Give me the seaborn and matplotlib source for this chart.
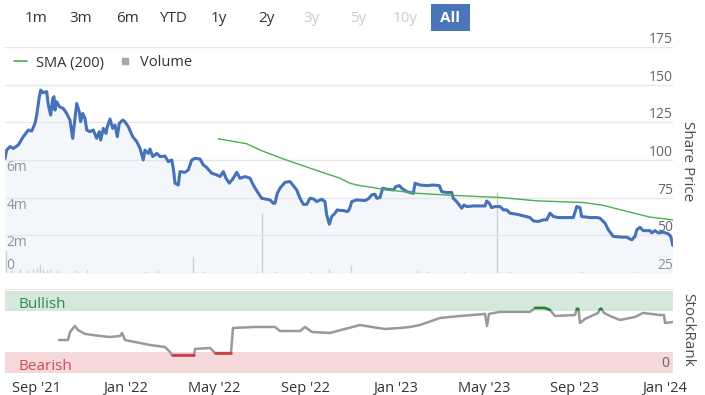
import numpy as np
import pandas as pd
import matplotlib
matplotlib.use("Agg")
import matplotlib.pyplot as plt
from matplotlib.lines import Line2D
from matplotlib.patches import FancyBboxPatch
import seaborn as sns

# ─── Data ─── (all dates are days counted from 1 Sep 2021)
START = pd.Timestamp("2021-09-01")

price_days = [-42, -39.7, -35.2, -30.7, -24, -17.2, -10.4, -5.8, -1.4, 0.9,
              4.5, 6.4, 9.1, 14.5, 16.7, 19.9, 22.6, 24.4, 25.7, 28,
              31.6, 37, 41.6, 46, 49.7, 52.8, 55.1, 58.6, 60.5, 63.3,
              66.4, 68.7, 73.1, 77.6, 82.2, 85.7, 87.6, 91.2, 94.8, 96.6,
              100.2, 103.9, 107, 110.1, 112.8, 117.4, 120.5, 125, 131, 136.4,
              140.9, 145.3, 147.6, 152.1, 154.4, 158.1, 163.5, 168, 174.7, 179.2,
              183.8, 186, 188.3, 192.7, 195, 201.8, 206.3, 210.9, 215.4, 222.1,
              226.6, 231.2, 238, 244.8, 249.2, 253.7, 257.4, 261.8, 267.2, 271.8,
              276.3, 283.1, 289.9, 294.3, 299.7, 305.7, 312.4, 316.9, 321.4, 323.7,
              326.8, 330.5, 337.3, 344, 349.5, 353.1, 357.6, 362.1, 366.7, 371.1,
              375.6, 380.2, 387, 391.4, 393.7, 397.3, 400.5, 405, 408.1, 411.8,
              416.2, 420.8, 423, 425.3, 427.6, 434.3, 445.6, 450.1, 454.7, 459.2,
              461.5, 465.9, 469.6, 472.7, 484, 487.6, 492.1, 495.4, 502.1, 511.1,
              513.4, 520.1, 529.2, 538.1, 546.3, 549.5, 556.3, 563.1, 565.2, 569.8,
              576.6, 579.7, 583.4, 592.3, 608.2, 610.4, 614, 617.2, 621.7, 628.5,
              633, 637.5, 642, 651.1, 655.6, 669.1, 673.6, 680.4, 687.2, 691.7,
              696.2, 700.7, 707.5, 727.8, 732.4, 736.8, 739.1, 750.4, 759.4, 763.9,
              770.7, 775.2, 781.9, 793.3, 800.1, 806.9, 811.4, 813.7, 818.1, 822.6,
              831.7, 834, 838.4, 842.9, 849.7, 856.5, 859.7, 862.4]
price_values = [101, 106.6, 108.9, 107.7, 110, 115.5, 119.9, 119.2, 124.3, 129.8,
                142, 146.4, 144.8, 145.3, 136.4, 129.8, 140.8, 142, 133.1, 138.7,
                135.4, 134.2, 130.9, 126.5, 114.4, 127.6, 137.5, 132, 125.4, 130.9,
                127.6, 119.9, 118.8, 119.9, 114.4, 118.8, 113.2, 121, 117.7, 122.1,
                127.2, 121, 123.2, 115.5, 124.3, 126.5, 125.4, 122.1, 115.5, 112.2,
                107.7, 100, 106.6, 104.4, 107.3, 102.3, 104.4, 102.3, 102.6, 98.9,
                100, 94.5, 84.6, 83.4, 92.3, 91.8, 93.4, 100, 101.1, 100.7,
                96.7, 95, 91.2, 90.1, 89, 92.3, 87.9, 84.6, 87.9, 91.8,
                87.9, 89, 87.9, 83.4, 79, 74.6, 73.9, 73.5, 71.3, 71.3,
                77.9, 81.3, 85.2, 85.7, 82.4, 80.1, 74.6, 70.6, 70.6, 74.6,
                74.2, 72.4, 73.9, 72.4, 63.6, 57.4, 62.5, 64.7, 66.9, 66.5,
                66.5, 65.8, 66.2, 68.4, 72.4, 73.5, 73.1, 74.2, 76.8, 77.3,
                74.6, 75.1, 81.3, 80.8, 80.1, 82.4, 83, 81.3, 79, 77.9,
                84.6, 83.4, 83, 83.4, 83, 79, 78.4, 78.5, 74.6, 72.4,
                68, 70.2, 69.1, 69.5, 69.5, 72.8, 71.3, 68.4, 69.1, 69.1,
                66.9, 66.9, 64.7, 64, 63.5, 61.8, 59.6, 59.2, 60.3, 60.3,
                64.7, 62.5, 61.8, 61.8, 69.1, 68.4, 62.5, 61.8, 61.8, 61.4,
                58.1, 53.7, 49.3, 48.8, 48.8, 47, 49.3, 53.7, 55.3, 53.1,
                53.1, 51.6, 53.1, 51.6, 52.1, 51, 49.3, 43.4]

sma_days = [246.9, 285.4, 303.4, 335, 384.8, 411.8, 425.3, 434.4, 470.4,
            515.6, 560.8, 628.5, 678.2, 741.3, 768.4, 800.1, 831.7, 862.4]
sma_values = [114.1, 110.8, 106.6, 100.7, 92.3, 87.9, 84.6, 83.4, 80.6,
              77.9, 76.6, 75.1, 72.9, 71.8, 69.9, 65.9, 62.1, 60.3]

volume_days = [-40.6, -32.5, -21.7, -10.8, -4.1, 1.4, 5.4, 9.5, 14.9, 19,
               28.4, 52.8, 56.9, 69.1, 147.6, 165.2, 212.7, 226.2, 299.3, 306.1,
               323.7, 372.5, 396.9, 426.7, 516.1, 531, 579.7, 624.4, 642, 739.6,
               814.1]
volume_values = [1.2, 0.15, 0.2, 0.15, 0.2, 0.25, 0.5, 0.2, 0.15, 0.2,
                 0.15, 0.15, 0.1, 0.15, 0.1, 0.15, 0.85, 0.12, 0.1, 3.2,
                 0.12, 0.12, 0.2, 0.45, 0.15, 0.1, 0.12, 4.3, 0.1, 0.12,
                 0.12]  # millions

rank_days = [31.2, 43.3, 46, 52.8, 56.9, 66.4, 86.7, 100.2, 113.8, 116.5,
             120.5, 140.9, 154.4, 174.7, 181.5, 184.2, 214, 215.4, 235.7, 242.5,
             264.1, 266.8, 296.6, 323.7, 330.5, 357.6, 364.4, 373.8, 398.2, 418.5,
             438.9, 463.2, 472.7, 493, 506.6, 520.1, 547.2, 574.3, 608.2, 610.9,
             613.6, 628.5, 669.1, 675.9, 689.4, 696.2, 703, 730.1, 732.2, 733.5,
             734.8, 736.8, 743.6, 761.2, 763.5, 765, 766.5, 769.4, 777.5, 791,
             811.4, 822.2, 845.2, 850.6, 852, 862.8]
rank_values = [40.2, 40.2, 50, 57.3, 52.4, 47.6, 45.1, 43.9, 45.1, 48.8,
               40.2, 36.6, 34.1, 31.7, 25.6, 22, 22, 29.3, 30.5, 24.4,
               24.4, 54.9, 56.1, 56.1, 51.2, 51.2, 56.1, 50, 48.8, 53.7,
               58.5, 54.9, 53.7, 54.9, 56.1, 58.5, 67.1, 69.5, 72, 57.3,
               72, 74.5, 74.5, 79.3, 79.3, 76.8, 69.5, 70.7, 77.5, 78.5,
               77.5, 61, 65.9, 73.2, 77.5, 78.5, 77.5, 73.2, 69.5, 64.6,
               68.3, 73.2, 70.7, 70.7, 61, 62.2]

x_range_days = [-42, 862.8]
x_tick_dates = ["2021-09-01", "2022-01-01", "2022-05-01", "2022-09-01",
                "2023-01-01", "2023-05-01", "2023-09-01", "2024-01-01"]
x_tick_labels = ["Sep '21", "Jan '22", "May '22", "Sep '22",
                 "Jan '23", "May '23", "Sep '23", "Jan '24"]
price_ticks = [25, 50, 75, 100, 125, 150, 175]
volume_ticks = [0, 2, 4, 6]
volume_tick_labels = ["0", "2m", "4m", "6m"]
range_buttons = ["1m", "3m", "6m", "YTD", "1y", "2y", "3y", "5y", "10y", "All"]
disabled_buttons = ["3y", "5y", "10y"]
selected_button = "All"

BLUE = "#4572b8"
GREEN = "#4cae4c"


def to_dates(days):
    return START + pd.to_timedelta(np.asarray(days, dtype=float), unit="D")


sns.set_style("white")
plt.rcParams["font.family"] = ["Open Sans", "DejaVu Sans"]

W, H = 705, 395
fig = plt.figure(figsize=(W / 100, H / 100), dpi=100)


def box(left, top, right, bottom):
    # pixel box -> figure fraction
    return [left / W, 1 - bottom / H, (right - left) / W, (bottom - top) / H]


x_lim = to_dates(x_range_days)

# ─── Price + volume panel ───
ax_vol = fig.add_axes(box(5, 47, 673, 273))
ax = ax_vol.twinx()
ax.set_zorder(ax_vol.get_zorder() + 1)
ax.patch.set_visible(False)

ax_vol.vlines(to_dates(volume_days), 0, volume_values, color="#c6c6c6", linewidth=1)
ax_vol.set_ylim(0, 12)
ax_vol.set_xlim(x_lim)
ax_vol.set_yticks(volume_ticks, volume_tick_labels)
ax_vol.tick_params(axis="y", length=0, pad=-1, labelsize=10, labelcolor="#666666")
ax_vol.tick_params(axis="x", bottom=False, labelbottom=False)
for lab in ax_vol.get_yticklabels():
    lab.set_ha("left")
    lab.set_va("bottom" if lab.get_text() == "0" else "top")

price_dates = to_dates(price_days)
ax.fill_between(price_dates, price_values, 25, color="#dfe6f4", alpha=0.35, linewidth=0)
sns.lineplot(x=price_dates, y=price_values, ax=ax, color=BLUE, linewidth=2.2, sort=False)
sns.lineplot(x=to_dates(sma_days), y=sma_values, ax=ax, color=GREEN, linewidth=1)
ax.set_ylim(25, 175)
ax.set_xlim(x_lim)
ax.set_yticks(price_ticks)
ax.grid(axis="y", color="#e6e6e6", linewidth=1)
ax.grid(axis="x", visible=False)
ax.set_axisbelow(True)
ax.set_xlabel("")
ax.set_ylabel("")
ax.tick_params(axis="y", length=0, pad=0, labelsize=10, labelcolor="#666666")
ax.tick_params(axis="x", bottom=False, labelbottom=False)
for lab in ax.get_yticklabels():
    lab.set_ha("right")
    lab.set_va("bottom")
for a in (ax, ax_vol):
    for s in a.spines.values():
        s.set_visible(False)

fig.legend(handles=[Line2D([], [], color=GREEN, lw=1.2),
                    Line2D([], [], ls="", marker="s", ms=5, color="#a8a8a8")],
           labels=["SMA (200)", "Volume"], loc="center left",
           bbox_to_anchor=(14 / W, 1 - 63 / H), ncol=2, frameon=False,
           fontsize=10.5, handlelength=0.9, handletextpad=0.6, columnspacing=1.0,
           borderpad=0, borderaxespad=0, labelcolor="#333333")

fig.text(688 / W, 1 - 161 / H, "Share Price", rotation=270, ha="center", va="center",
         fontsize=11, color="#4d4d4d")

# ─── StockRank panel ───
ax_r = fig.add_axes(box(5, 289, 673, 373))
ax_r.axhspan(75, 100, color="#d4e8dc", linewidth=0)
ax_r.axhspan(0, 25, color="#f5d8da", linewidth=0)

rank_dates = to_dates(rank_days)
rank_arr = np.array(rank_values)
sns.lineplot(x=rank_dates, y=rank_arr, ax=ax_r, color="#999999", linewidth=1.8, sort=False)
ax_r.plot(rank_dates, np.where(rank_arr < 25, rank_arr, np.nan), color="#d6313e", linewidth=1.8)
ax_r.plot(rank_dates, np.where(rank_arr >= 75, rank_arr, np.nan), color="#1b8a2a", linewidth=1.8)

ax_r.set_ylim(0, 102.4)
ax_r.set_xlim(x_lim)
ax_r.set_yticks([])
ax_r.set_xlabel("")
ax_r.set_ylabel("")
ax_r.set_xticks(pd.to_datetime(x_tick_dates), x_tick_labels)
ax_r.tick_params(axis="x", length=6, width=1, color="#ccd6eb", pad=0,
                 labelsize=10.5, labelcolor="#333333")
for name, s in ax_r.spines.items():
    s.set_visible(name == "top")
ax_r.spines["top"].set_color("#e6e6e6")

ax_r.text(0.0195, 83, "Bullish", transform=ax_r.get_yaxis_transform(),
          va="center", ha="left", fontsize=11, color="#2e8b4a")
ax_r.text(0.0195, 8, "Bearish", transform=ax_r.get_yaxis_transform(),
          va="center", ha="left", fontsize=11, color="#d24a58")
ax_r.text(0.995, 2, "0", transform=ax_r.get_yaxis_transform(),
          va="bottom", ha="right", fontsize=10, color="#666666")

fig.text(688 / W, 1 - 330 / H, "StockRank", rotation=270, ha="center", va="center",
         fontsize=11, color="#4d4d4d")

# ─── Range selector buttons ───
button_centers = [36, 81, 127, 173, 219, 266, 312, 358, 405, 450]
for label, cx in zip(range_buttons, button_centers):
    if label == selected_button:
        fig.patches.append(FancyBboxPatch((431 / W, 1 - 31 / H), 39 / W, 27 / H,
                                          boxstyle="square,pad=0",
                                          transform=fig.transFigure,
                                          facecolor="#4a75b9", edgecolor="none"))
        color, weight = "white", "bold"
    elif label in disabled_buttons:
        color, weight = "#cccccc", "normal"
    else:
        color, weight = "#333333", "normal"
    fig.text(cx / W, 1 - 18 / H, label, ha="center", va="center",
             fontsize=11, color=color, fontweight=weight)

fig.savefig("out.png", dpi=100)
